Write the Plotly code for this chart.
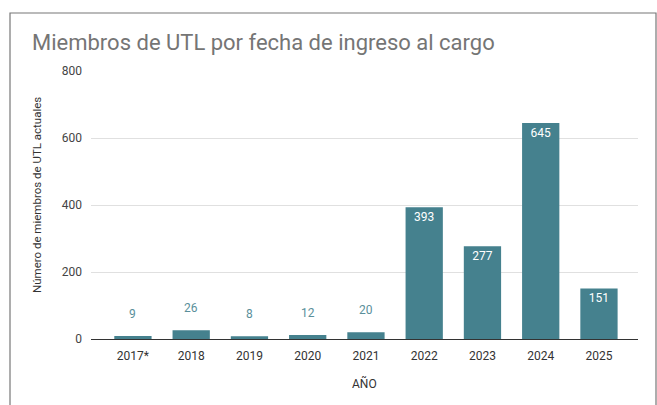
import plotly.graph_objects as go

categories = ["2017*", "2018", "2019", "2020", "2021", "2022", "2023", "2024", "2025"]
values = [9, 26, 8, 12, 20, 393, 277, 645, 151]
y_ticks = [0, 200, 400, 600, 800]

BAR = "#45818e"
inside = [v > 100 for v in values]

fig = go.Figure(go.Bar(
    x=categories, y=values,
    marker=dict(color=BAR, line=dict(width=0)),
    width=0.64,
    text=[str(v) if i else "" for v, i in zip(values, inside)],
    textposition="inside",
    insidetextanchor="end",
    textfont=dict(color="#ffffff", size=12, family="Roboto"),
    constraintext="none",
))

for idx, (v, i) in enumerate(zip(values, inside)):
    if not i:
        fig.add_annotation(x=idx, y=v, text=str(v), showarrow=False, yanchor="bottom",
                           yshift=13, font=dict(size=12, color="#5a8f9b", family="Roboto"))

L, R, T, B = 91, 19, 71, 66
W, H = 657, 405
pw, ph = W - L - R, H - T - B

fig.update_layout(
    width=W, height=H,
    margin=dict(l=L, r=R, t=T, b=B),
    paper_bgcolor="white", plot_bgcolor="white",
    font=dict(family="Roboto", color="#444444"),
    showlegend=False,
    title=dict(text="Miembros de UTL por fecha de ingreso al cargo",
               x=32 / W, xanchor="left", xref="container",
               y=1 - 42 / H, yanchor="middle", yref="container",
               font=dict(size=22, color="#757575", family="Roboto")),
    xaxis=dict(type="category", range=[-0.72, 8.67], showgrid=False, showline=True,
               linecolor="#333333", linewidth=1, tickfont=dict(size=12, color="#333333"),
               ticks="outside", ticklen=6, tickcolor="rgba(0,0,0,0)"),
    yaxis=dict(range=[0, 800], tickvals=y_ticks, showgrid=True, gridcolor="#e0e0e0",
               zeroline=False, tickfont=dict(size=12, color="#444444"),
               ticklabelstandoff=8),
    bargap=0.36,
)

fig.add_annotation(text="AÑO", xref="paper", yref="paper", x=(364 - L) / pw,
                   y=-(383 - (T + ph)) / ph, showarrow=False,
                   font=dict(size=12, color="#333333"), xanchor="center", yanchor="middle")
fig.add_annotation(text="Número de miembros de UTL actuales", xref="paper", yref="paper",
                   x=(37 - L) / pw, y=(T + ph - 195) / ph, textangle=-90, showarrow=False,
                   font=dict(size=11.5, color="#333333"), xanchor="center", yanchor="middle")

# outer frame
fig.add_shape(type="rect", xref="paper", yref="paper",
              x0=(10 - L) / pw, x1=(656 - L) / pw,
              y0=-0.4, y1=1 + (T - 13) / ph,
              line=dict(color="#777777", width=1.2), fillcolor="rgba(0,0,0,0)", layer="below")

fig.write_html("out.html", config={"displayModeBar": False},
               post_script="document.body.style.margin='0';document.body.style.overflow='hidden';")
